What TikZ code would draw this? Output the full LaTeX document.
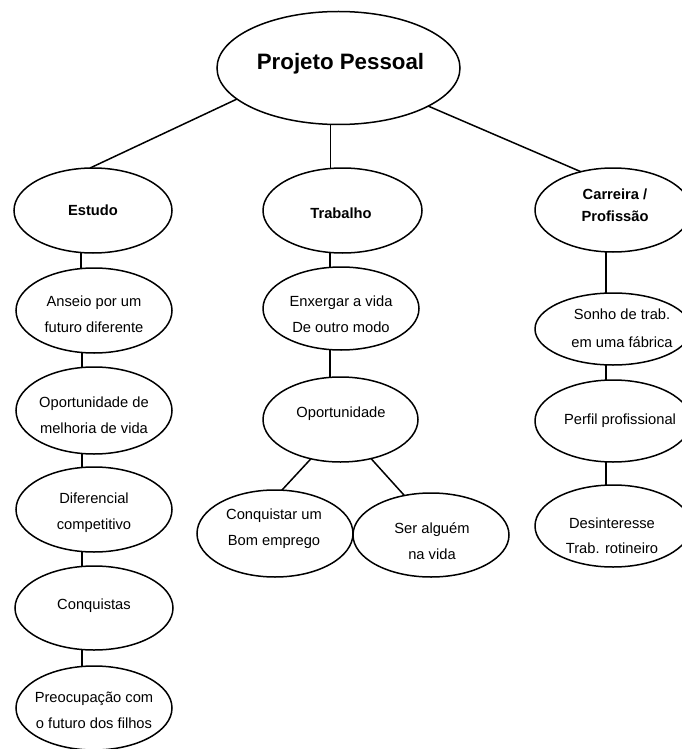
\documentclass[tikz,border=0pt]{standalone}
\usepackage{fontspec}
\setmainfont{Liberation Sans}
\usetikzlibrary{shapes.geometric}
\newcommand\fsz{\fontsize{14.7}{26}\selectfont}
\begin{document}
\begin{tikzpicture}[x=1pt,y=-1pt,
  bub/.style={draw, ellipse, line width=1.5pt, inner sep=0pt, outer sep=0pt},
  txt/.style={align=center, inner sep=0pt, font=\fsz},
  btxt/.style={align=center, inner sep=0pt, font=\fsz\bfseries},
  con/.style={line width=1.5pt}]
\useasboundingbox (0,0) rectangle (682,749);
\fill[white] (0,0) rectangle (682,749);
% ellipses
\node[bub, minimum width=243pt, minimum height=113pt] (projeto) at (338.5,68) {};
\node[bub, minimum width=158pt, minimum height=85pt] (estudo) at (93,210.5) {};
\node[bub, minimum width=156pt, minimum height=85pt] (anseio) at (94,310.5) {};
\node[bub, minimum width=156pt, minimum height=87pt] (melhoria) at (94,410.5) {};
\node[bub, minimum width=156pt, minimum height=85pt] (diferencial) at (94,509.5) {};
\node[bub, minimum width=158pt, minimum height=84pt] (conquistas) at (94,608) {};
\node[bub, minimum width=156pt, minimum height=84pt] (preocupacao) at (94,708) {};
\node[bub, minimum width=159pt, minimum height=85pt] (trabalho) at (342.5,210.5) {};
\node[bub, minimum width=156pt, minimum height=83pt] (enxergar) at (341,308.5) {};
\node[bub, minimum width=155pt, minimum height=85pt] (oportunidade) at (340.5,419.5) {};
\node[bub, minimum width=156pt, minimum height=87pt] (conquistar) at (275,533.5) {};
\node[bub, minimum width=156pt, minimum height=84pt] (ser) at (431,535) {};
\node[bub, minimum width=156pt, minimum height=84pt] (carreira) at (613,210) {};
\node[bub, minimum width=156pt, minimum height=72pt] (sonho) at (613,329) {};
\node[bub, minimum width=156pt, minimum height=82pt] (perfil) at (613,421) {};
\node[bub, minimum width=156pt, minimum height=82pt] (desinteresse) at (613,526) {};
% texts
\node[txt, font=\fontsize{22.3}{26}\selectfont\bfseries] (projetoT) at (340.5,64) {Projeto Pessoal};
\node[btxt] (estudoT) at (93,210) {Estudo};
\node[txt] (anseioT) at (94,314) {Anseio por um\\futuro diferente};
\node[txt] (melhoriaT) at (94,415) {Oportunidade de\\melhoria de vida};
\node[txt] (diferencialT) at (94,513) {Diferencial\\competitivo};
\node[txt] (conquistasT) at (94,606) {Conquistas};
\node[txt] (preocupacaoT) at (94,710) {Preocupação com\\o futuro dos filhos};
\node[btxt] (trabalhoT) at (341,213) {Trabalho};
\node[txt] (enxergarT) at (341,314) {Enxergar a vida\\De outro modo};
\node[txt] (oportunidadeT) at (341,414) {Oportunidade};
\node[txt] (conquistarT) at (274,529) {Conquistar um\\Bom emprego};
\node[txt] (serT) at (432,541) {Ser alguém\\na vida};
\node[btxt, font=\fontsize{14.7}{22}\selectfont\bfseries] (carreiraT) at (615,205) {Carreira /\\Profissão};
\node[txt, font=\fontsize{14.7}{28}\selectfont] (sonhoT) at (622,328) {Sonho de trab.\\em uma fábrica};
\node[txt] (perfilT) at (620,421) {Perfil profissional};
\node[txt, font=\fontsize{14.7}{25}\selectfont] (desinteresseT) at (612,536) {Desinteresse\\Trab. rotineiro};
% connectors
\draw[con] (projeto.197) -- (estudo.94);
\draw[con] (projeto.262) -- (projeto.262 |- trabalho.north);
\draw[con] (projeto.-23) -- (carreira.130);
\draw[con] ([xshift=-12pt]estudo.south) -- ([xshift=-12pt]estudo.south |- anseio.north);
\draw[con] ([xshift=-12pt]anseio.south) -- ([xshift=-12pt]anseio.south |- melhoria.north);
\draw[con] ([xshift=-12pt]melhoria.south) -- ([xshift=-12pt]melhoria.south |- diferencial.north);
\draw[con] ([xshift=-12pt]diferencial.south) -- ([xshift=-12pt]diferencial.south |- conquistas.north);
\draw[con] ([xshift=-12pt]conquistas.south) -- ([xshift=-12pt]conquistas.south |- preocupacao.north);
\draw[con] ([xshift=-12.5pt]trabalho.south) -- ([xshift=-12.5pt]trabalho.south |- enxergar.north);
\draw[con] ([xshift=-11pt]enxergar.south) -- ([xshift=-11pt]enxergar.south |- oportunidade.north);
\draw[con] (oportunidade.233) -- (conquistar.81);
\draw[con] (oportunidade.308) -- (ser.124);
\draw[con] ([xshift=-7pt]carreira.south) -- ([xshift=-7pt]carreira.south |- sonho.north);
\draw[con] ([xshift=-7pt]sonho.south) -- ([xshift=-7pt]sonho.south |- perfil.north);
\draw[con] ([xshift=-7pt]perfil.south) -- ([xshift=-7pt]perfil.south |- desinteresse.north);
\end{tikzpicture}
\end{document}
